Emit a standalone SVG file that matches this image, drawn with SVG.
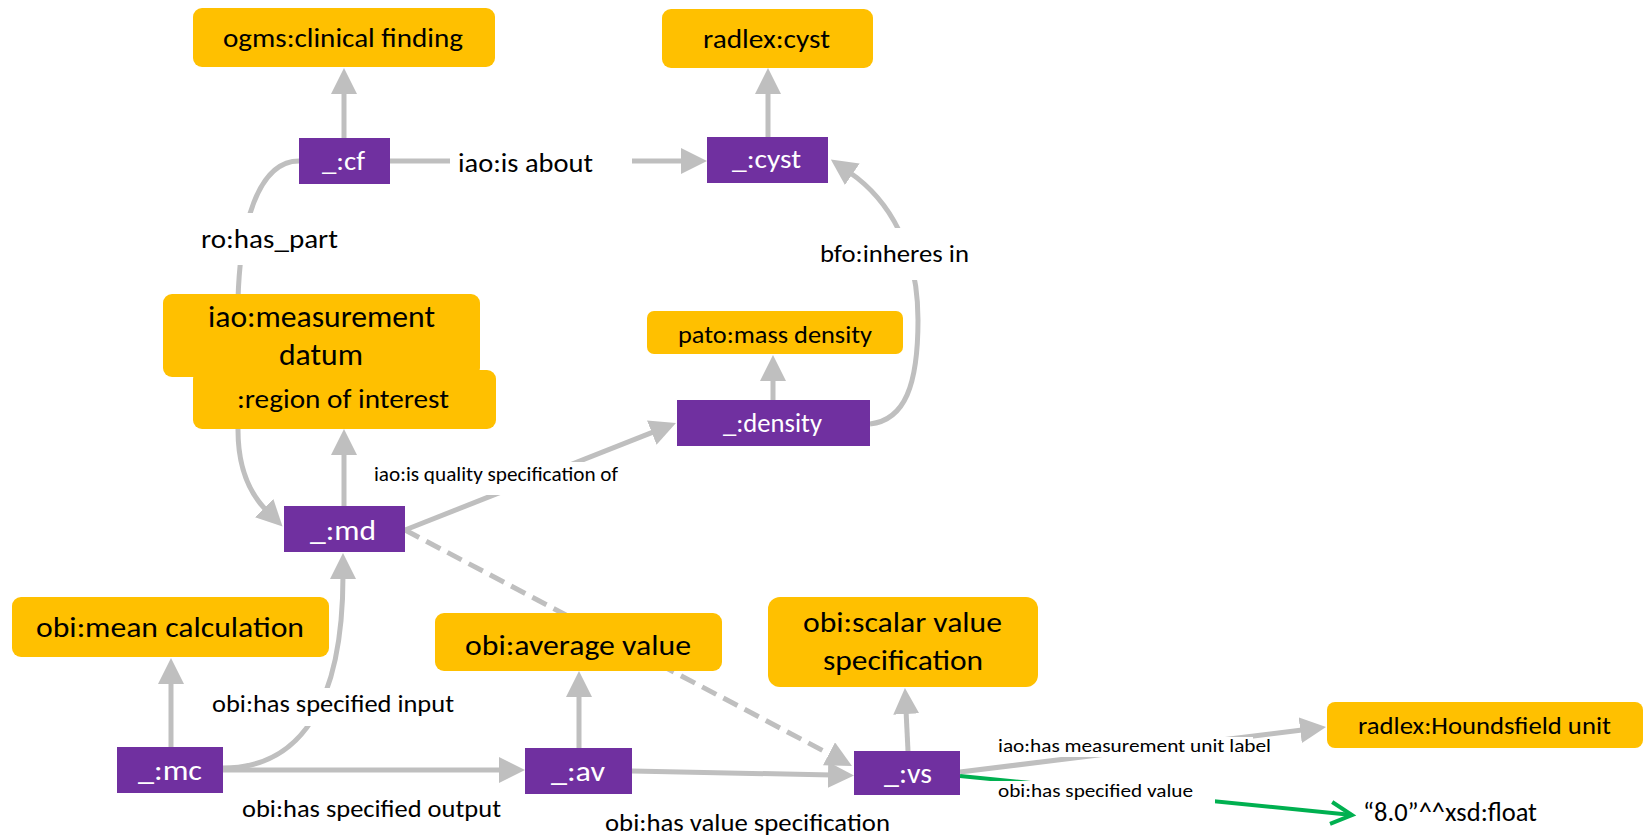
<svg xmlns="http://www.w3.org/2000/svg" width="1651" height="840" viewBox="0 0 1651 840">
<style>
.t{font-family:Carlito,Calibri,Lato,"Open Sans",sans-serif;fill:#000}
.w{fill:#fff}
.y{fill:#FFC000}
.p{fill:#7030A0}
.c{fill:none;stroke:#BFBFBF;stroke-width:5}
.d{stroke-dasharray:16 8}
.g{fill:none;stroke:#00B050;stroke-width:4}
.bg{fill:#fff}
</style>
<defs>
<marker id="ah" markerUnits="userSpaceOnUse" markerWidth="26" markerHeight="26" refX="4" refY="13" orient="auto" viewBox="0 0 26 26"><path d="M0,0 L26,13 L0,26 z" fill="#BFBFBF"/></marker>
<marker id="gh" markerUnits="userSpaceOnUse" markerWidth="28" markerHeight="28" refX="23" refY="13" orient="auto" viewBox="0 0 28 26"><path d="M2,2 L23,13 L2,24" fill="none" stroke="#00B050" stroke-width="4"/></marker>
</defs>
<rect width="1651" height="840" fill="#fff"/>
<g id="connectors">
<path class="c" d="M344,138 L344,90" marker-end="url(#ah)"/>
<path class="c" d="M390,161 L685,161" marker-end="url(#ah)"/>
<path class="c" d="M768,137 L768,90" marker-end="url(#ah)"/>
<path class="c" d="M299,161 C258,161 240,225 238,300 L238,430 C238,470 250,494 267,511" marker-end="url(#ah)"/>
<path class="c" d="M344,506 L344,451" marker-end="url(#ah)"/>
<path class="c" d="M405,530 L655.5,431.1" marker-end="url(#ah)"/>
<path class="c" d="M773,400 L773,377" marker-end="url(#ah)"/>
<path class="c" d="M870,424 C905,420 918,385 918,320 C918,250 890,200 849,172" marker-end="url(#ah)"/>
<path class="c" d="M171,747 L171,680" marker-end="url(#ah)"/>
<path class="c" d="M223,768 C300,768 343,705 343,575" marker-end="url(#ah)"/>
<path class="c" d="M223,770 L503,770" marker-end="url(#ah)"/>
<path class="c" d="M579,748 L579,693" marker-end="url(#ah)"/>
<path class="c" d="M632,771 L832,775" marker-end="url(#ah)"/>
<path class="c d" d="M405,530 L832.5,755.7" marker-end="url(#ah)"/>
<path class="c" d="M908,751 L906,710" marker-end="url(#ah)"/>
<path class="c" d="M960,772 L1304.2,729.7" marker-end="url(#ah)"/>
<path class="g" d="M960,776 L1352,815" marker-end="url(#gh)"/>
</g>
<g id="edge-labels">
<rect class="bg" x="450" y="145" width="182" height="32"/>
<text class="t" x="458" y="172" font-size="27" textLength="135" lengthAdjust="spacingAndGlyphs">iao:is about</text>
<rect class="bg" x="195" y="213" width="150" height="52"/>
<text class="t" x="201" y="248" font-size="27" textLength="137" lengthAdjust="spacingAndGlyphs">ro:has_part</text>
<rect class="bg" x="815" y="228" width="160" height="52"/>
<text class="t" x="820" y="262" font-size="24" textLength="149" lengthAdjust="spacingAndGlyphs">bfo:inheres in</text>
<rect class="bg" x="370" y="462" width="255" height="33"/>
<text class="t" x="374" y="481" font-size="20" textLength="244" lengthAdjust="spacingAndGlyphs">iao:is quality specification of</text>
<rect class="bg" x="205" y="688" width="255" height="38"/>
<text class="t" x="212" y="712" font-size="25" textLength="242" lengthAdjust="spacingAndGlyphs">obi:has specified input</text>
<text class="t" x="242" y="817" font-size="25" textLength="259" lengthAdjust="spacingAndGlyphs">obi:has specified output</text>
<text class="t" x="605" y="831" font-size="25" textLength="285" lengthAdjust="spacingAndGlyphs">obi:has value specification</text>
<rect class="bg" x="990" y="737" width="263" height="20"/>
<text class="t" x="998" y="752" font-size="19" textLength="273" lengthAdjust="spacingAndGlyphs">iao:has measurement unit label</text>
<rect class="bg" x="990" y="781" width="225" height="24"/>
<text class="t" x="998" y="797" font-size="19" textLength="195" lengthAdjust="spacingAndGlyphs">obi:has specified value</text>
</g>
<g id="n-ogms"><rect class="y" x="193" y="8" width="302" height="59" rx="9"/><text class="t" x="223" y="47" font-size="27" textLength="240" lengthAdjust="spacingAndGlyphs">ogms:clinical finding</text></g>
<g id="n-radlex-cyst"><rect class="y" x="662" y="9" width="211" height="59" rx="9"/><text class="t" x="703" y="48" font-size="27" textLength="127" lengthAdjust="spacingAndGlyphs">radlex:cyst</text></g>
<g id="n-cf"><rect class="p" x="299" y="138" width="91" height="46"/><text class="t w" x="322" y="170" font-size="27" textLength="43" lengthAdjust="spacingAndGlyphs">_:cf</text></g>
<g id="n-cyst"><rect class="p" x="707" y="137" width="121" height="46"/><text class="t w" x="732" y="168" font-size="27" textLength="69" lengthAdjust="spacingAndGlyphs">_:cyst</text></g>
<g id="n-measurement-datum"><rect class="y" x="163" y="294" width="317" height="83" rx="9"/><text class="t" x="208" y="327" font-size="30" textLength="227" lengthAdjust="spacingAndGlyphs">iao:measurement</text><text class="t" x="279" y="365" font-size="30" textLength="84" lengthAdjust="spacingAndGlyphs">datum</text></g>
<g id="n-region"><rect class="y" x="193" y="370" width="303" height="59" rx="9"/><text class="t" x="237" y="408" font-size="27" textLength="212" lengthAdjust="spacingAndGlyphs">:region of interest</text></g>
<g id="n-pato"><rect class="y" x="647" y="311" width="256" height="43" rx="7"/><text class="t" x="678" y="343" font-size="24" textLength="194" lengthAdjust="spacingAndGlyphs">pato:mass density</text></g>
<g id="n-density"><rect class="p" x="677" y="400" width="193" height="46"/><text class="t w" x="723" y="432" font-size="27" textLength="99" lengthAdjust="spacingAndGlyphs">_:density</text></g>
<g id="n-md"><rect class="p" x="284" y="506" width="121" height="46"/><text class="t w" x="310" y="540" font-size="29" textLength="66" lengthAdjust="spacingAndGlyphs">_:md</text></g>
<g id="n-mean-calc"><rect class="y" x="12" y="597" width="317" height="60" rx="9"/><text class="t" x="36" y="637" font-size="29" textLength="268" lengthAdjust="spacingAndGlyphs">obi:mean calculation</text></g>
<g id="n-average-value"><rect class="y" x="435" y="613" width="287" height="58" rx="9"/><text class="t" x="465" y="655" font-size="29" textLength="226" lengthAdjust="spacingAndGlyphs">obi:average value</text></g>
<g id="n-scalar"><rect class="y" x="768" y="597" width="270" height="90" rx="12"/><text class="t" x="803" y="632" font-size="29" textLength="199" lengthAdjust="spacingAndGlyphs">obi:scalar value</text><text class="t" x="823" y="670" font-size="29" textLength="160" lengthAdjust="spacingAndGlyphs">specification</text></g>
<g id="n-houndsfield"><rect class="y" x="1327" y="702" width="316" height="46" rx="8"/><text class="t" x="1358" y="734" font-size="25" textLength="253" lengthAdjust="spacingAndGlyphs">radlex:Houndsfield unit</text></g>
<g id="n-mc"><rect class="p" x="117" y="747" width="106" height="46"/><text class="t w" x="138" y="780" font-size="29" textLength="64" lengthAdjust="spacingAndGlyphs">_:mc</text></g>
<g id="n-av"><rect class="p" x="525" y="748" width="107" height="46"/><text class="t w" x="551" y="781" font-size="29" textLength="54" lengthAdjust="spacingAndGlyphs">_:av</text></g>
<g id="n-vs"><rect class="p" x="854" y="751" width="106" height="44"/><text class="t w" x="884" y="783" font-size="29" textLength="48" lengthAdjust="spacingAndGlyphs">_:vs</text></g>
<g id="n-literal"><text class="t" x="1363" y="821" font-size="26" textLength="174" lengthAdjust="spacingAndGlyphs">“8.0”^^xsd:float</text></g>
</svg>
